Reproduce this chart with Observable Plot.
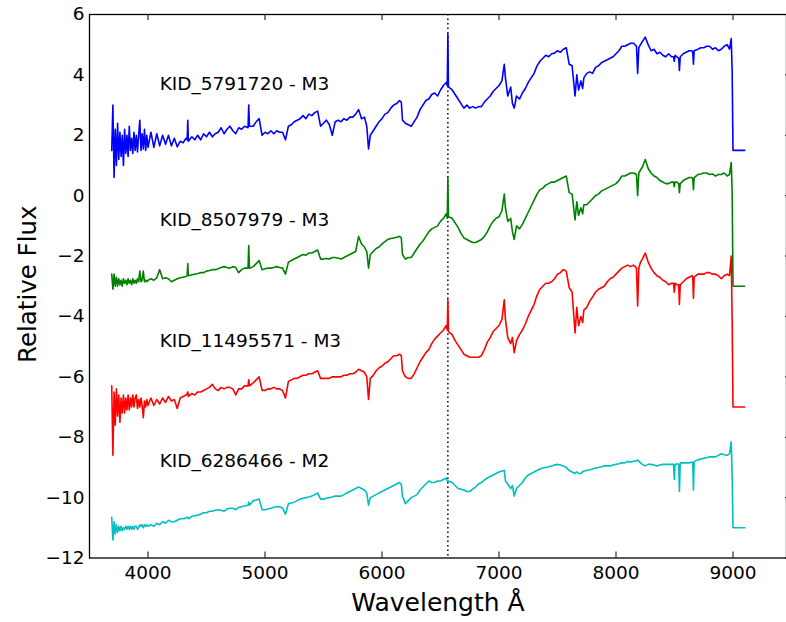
<!DOCTYPE html>
<html><head><meta charset="utf-8">
<script src="https://cdn.jsdelivr.net/npm/d3@7"></script>
<script src="https://cdn.jsdelivr.net/npm/@observablehq/plot@0.6"></script>
<style>html,body{margin:0;padding:0;background:#fff;overflow:hidden}#chart svg{display:block;overflow:hidden}</style>
</head><body><div id="chart"></div>
<script>
// Wavelength grid (Angstrom)
const wavelength = [
3690, 3700, 3710, 3720, 3730, 3740, 3750, 3760, 3770, 3780,
3790, 3800, 3810, 3820, 3830, 3840, 3850, 3860, 3870, 3880,
3890, 3900, 3910, 3920, 3930, 3940, 3950, 3960, 3970, 3980,
3990, 4000, 4025, 4050, 4075, 4100, 4125, 4150, 4175, 4200,
4225, 4250, 4275, 4300, 4325, 4335, 4340, 4345, 4375, 4400,
4425, 4450, 4475, 4500, 4525, 4550, 4575, 4600, 4625, 4650,
4675, 4700, 4725, 4750, 4775, 4800, 4825, 4855, 4861, 4867,
4900, 4925, 4950, 4975, 5000, 5025, 5050, 5075, 5100, 5125,
5150, 5175, 5200, 5225, 5250, 5275, 5300, 5325, 5350, 5375,
5400, 5425, 5450, 5475, 5500, 5525, 5550, 5575, 5600, 5625,
5650, 5675, 5700, 5725, 5750, 5775, 5800, 5825, 5850, 5870,
5885, 5900, 5925, 5950, 5975, 6000, 6025, 6050, 6075, 6100,
6125, 6150, 6165, 6175, 6200, 6225, 6250, 6275, 6300, 6325,
6350, 6375, 6400, 6425, 6450, 6475, 6500, 6525, 6550, 6558,
6563, 6568, 6600, 6625, 6650, 6675, 6700, 6725, 6750, 6775,
6800, 6825, 6850, 6875, 6900, 6925, 6950, 6975, 7000, 7025,
7045, 7055, 7075, 7100, 7115, 7130, 7150, 7175, 7200, 7225,
7250, 7275, 7300, 7325, 7350, 7375, 7400, 7425, 7450, 7475,
7500, 7525, 7550, 7575, 7600, 7625, 7650, 7665, 7680, 7700,
7715, 7725, 7750, 7775, 7800, 7825, 7850, 7875, 7900, 7925,
7950, 7975, 8000, 8025, 8050, 8075, 8100, 8125, 8150, 8175,
8185, 8195, 8210, 8225, 8250, 8275, 8300, 8325, 8350, 8375,
8400, 8425, 8450, 8475, 8492, 8498, 8505, 8520, 8536, 8542,
8549, 8575, 8600, 8625, 8650, 8656, 8662, 8668, 8700, 8725,
8750, 8775, 8800, 8825, 8850, 8875, 8900, 8925, 8950, 8970,
8985, 8993, 9000, 9100
];

// KID_5791720 - M3 (blue)
const fluxKID5791720 = [
1.5, 3.0, 0.6, 2.2, 1.0, 2.4, 1.2, 2.1, 1.3, 2.0,
1.0, 2.2, 1.4, 2.0, 1.3, 2.3, 1.5, 1.9, 1.4, 2.1,
1.5, 2.0, 1.45, 2.0, 2.5, 1.5, 2.05, 1.55, 2.2, 1.5,
2.0, 1.6, 2.1, 1.6, 2.05, 1.65, 2.0, 1.7, 2.0, 1.65,
1.9, 1.62, 1.8, 1.75, 1.9, 1.85, 2.5, 1.8, 1.95, 1.85,
2.0, 1.85, 2.05, 1.95, 2.1, 1.95, 2.05, 2.1, 2.25, 2.05,
2.2, 2.3, 2.15, 2.05, 2.25, 2.2, 2.3, 2.25, 3.0, 2.3,
2.3, 2.45, 2.55, 2.0, 2.1, 2.05, 2.15, 2.05, 2.15, 2.1,
2.1, 1.85, 2.3, 2.35, 2.45, 2.5, 2.55, 2.65, 2.55, 2.7,
2.65, 2.75, 2.8, 2.3, 2.4, 2.5, 2.35, 2.0, 2.45, 2.5,
2.45, 2.55, 2.5, 2.6, 2.6, 2.7, 2.85, 2.55, 2.6, 2.3,
1.55, 2.0, 2.15, 2.3, 2.45, 2.55, 2.7, 2.75, 2.9, 3.0,
3.05, 3.15, 3.1, 2.5, 2.4, 2.35, 2.3, 2.45, 2.6, 2.85,
3.0, 3.15, 3.2, 3.35, 3.4, 3.3, 3.5, 3.65, 3.75, 3.65,
5.35, 3.6, 3.5, 3.35, 3.2, 3.05, 2.9, 3.0, 2.9, 2.95,
2.9, 2.95, 2.95, 3.1, 3.2, 3.3, 3.45, 3.55, 3.65, 3.8,
4.35, 3.9, 3.3, 3.6, 3.05, 2.9, 3.3, 3.2, 3.4, 3.55,
3.75, 3.9, 4.05, 4.3, 4.45, 4.55, 4.65, 4.6, 4.7, 4.72,
4.8, 4.75, 4.85, 4.9, 4.35, 4.3, 3.3, 4.0, 3.5, 3.8,
3.55, 3.9, 4.05, 4.1, 4.05, 4.25, 4.3, 4.4, 4.45, 4.5,
4.55, 4.6, 4.7, 4.8, 4.95, 4.95, 5.0, 5.05, 5.05, 4.95,
4.05, 4.9, 5.0, 5.1, 5.25, 5.0, 4.8, 4.85, 4.7, 4.75,
4.65, 4.6, 4.7, 4.6, 4.6, 4.45, 4.65, 4.6, 4.55, 4.15,
4.6, 4.7, 4.75, 4.8, 4.8, 4.75, 4.35, 4.8, 4.85, 4.9,
4.9, 4.95, 4.95, 4.85, 4.9, 4.8, 4.85, 4.95, 5.0, 4.85,
5.2, 4.1, 1.5, 1.5
];

// KID_8507979 - M3 (green)
const fluxKID8507979 = [
-2.6, -3.1, -2.6, -3.0, -2.7, -3.0, -2.75, -2.95, -2.8, -3.0,
-2.75, -2.9, -2.8, -2.95, -2.75, -2.9, -2.8, -2.95, -2.75, -2.9,
-2.8, -2.9, -2.75, -2.85, -2.5, -2.85, -2.8, -2.5, -2.85, -2.8,
-2.85, -2.8, -2.75, -2.8, -2.72, -2.45, -2.75, -2.72, -2.75, -2.85,
-2.8, -2.75, -2.72, -2.7, -2.68, -2.65, -2.25, -2.65, -2.62, -2.6,
-2.58, -2.55, -2.55, -2.5, -2.48, -2.45, -2.45, -2.42, -2.38, -2.35,
-2.38, -2.4, -2.35, -2.38, -2.55, -2.45, -2.4, -2.4, -1.65, -2.4,
-2.35, -2.25, -2.15, -2.45, -2.42, -2.4, -2.4, -2.38, -2.35, -2.38,
-2.4, -2.6, -2.2, -2.15, -2.1, -2.05, -2.0, -1.95, -1.97, -1.9,
-1.9, -1.85, -1.8, -2.1, -2.1, -2.08, -2.1, -2.05, -2.05, -2.07,
-2.1, -2.05, -2.0, -1.95, -1.9, -1.85, -1.35, -1.6, -1.7, -1.85,
-2.4, -1.95, -1.85, -1.75, -1.7, -1.6, -1.52, -1.45, -1.42, -1.4,
-1.38, -1.35, -1.4, -1.95, -2.1, -2.05, -2.05, -1.9, -1.75, -1.6,
-1.5, -1.35, -1.2, -1.1, -1.05, -1.0, -0.85, -0.75, -0.6, -0.75,
0.6, -0.7, -0.75, -0.9, -1.05, -1.25, -1.4, -1.45, -1.5, -1.55,
-1.55, -1.5, -1.45, -1.35, -1.2, -1.0, -0.85, -0.75, -0.7, -0.5,
0.05, -0.4, -0.85, -0.75, -1.2, -1.45, -1.0, -1.1, -0.95, -0.75,
-0.55, -0.35, -0.15, 0.05, 0.2, 0.25, 0.35, 0.4, 0.45, 0.45,
0.5, 0.55, 0.6, 0.65, 0.1, 0.05, -0.8, -0.2, -0.65, -0.4,
-0.6, -0.3, -0.3, -0.2, -0.1, 0.0, 0.05, 0.15, 0.2, 0.25,
0.3, 0.35, 0.4, 0.5, 0.65, 0.65, 0.7, 0.75, 0.75, 0.7,
0.0, 0.75, 0.85, 0.95, 1.2, 0.9, 0.75, 0.65, 0.6, 0.5,
0.45, 0.4, 0.4, 0.45, 0.45, 0.3, 0.45, 0.45, 0.4, 0.1,
0.4, 0.5, 0.55, 0.6, 0.6, 0.55, 0.2, 0.6, 0.7, 0.72,
0.75, 0.75, 0.7, 0.72, 0.65, 0.7, 0.7, 0.75, 0.65, 0.7,
1.1, 0.1, -3.0, -3.0
];

// KID_11495571 - M3 (red)
const fluxKID11495571 = [
-6.3, -8.6, -6.5, -7.6, -6.4, -7.3, -6.6, -7.5, -6.7, -7.2,
-6.6, -7.2, -6.7, -7.1, -6.6, -7.1, -6.7, -7.0, -6.6, -7.0,
-6.7, -6.6, -7.05, -6.75, -7.0, -6.7, -6.95, -7.35, -6.8, -7.0,
-6.75, -6.95, -6.7, -6.95, -6.75, -6.9, -6.7, -6.85, -6.65, -6.8,
-6.75, -7.05, -6.7, -6.65, -6.6, -6.55, -6.5, -6.65, -6.55, -6.6,
-6.5, -6.5, -6.45, -6.4, -6.35, -6.25, -6.4, -6.45, -6.35, -6.4,
-6.35, -6.35, -6.4, -6.6, -6.4, -6.4, -6.3, -6.3, -6.1, -6.3,
-6.2, -6.1, -6.0, -6.45, -6.45, -6.4, -6.4, -6.35, -6.4, -6.4,
-6.45, -6.7, -6.15, -6.1, -6.05, -6.05, -6.0, -5.95, -5.95, -5.9,
-5.9, -5.85, -5.8, -6.05, -6.05, -6.05, -6.05, -6.0, -6.0, -6.0,
-6.0, -5.95, -5.95, -5.9, -5.9, -5.85, -5.75, -5.8, -5.85, -6.0,
-6.75, -6.05, -5.95, -5.8, -5.7, -5.65, -5.55, -5.5, -5.4, -5.3,
-5.3, -5.25, -5.3, -5.8, -6.0, -6.05, -6.05, -5.9, -5.7, -5.5,
-5.35, -5.2, -5.1, -4.9, -4.75, -4.65, -4.55, -4.45, -4.3, -4.45,
-3.45, -4.5, -4.6, -4.8, -4.95, -5.1, -5.25, -5.3, -5.35, -5.35,
-5.35, -5.35, -5.3, -5.1, -4.85, -4.7, -4.5, -4.4, -4.3, -4.1,
-3.45, -4.1, -4.7, -4.9, -4.7, -5.2, -4.8, -4.6, -4.45, -4.25,
-4.0, -3.8, -3.6, -3.3, -3.1, -3.0, -2.9, -2.9, -2.85, -2.75,
-2.6, -2.55, -2.45, -2.5, -3.05, -3.2, -4.55, -3.7, -4.3, -4.0,
-4.2, -3.8, -3.7, -3.5, -3.35, -3.2, -3.1, -3.05, -3.0, -2.85,
-2.75, -2.7, -2.6, -2.5, -2.4, -2.35, -2.3, -2.35, -2.3, -2.4,
-3.65, -2.4, -2.2, -2.1, -1.9, -2.2, -2.4, -2.55, -2.65, -2.7,
-2.8, -2.85, -2.95, -2.9, -2.9, -3.2, -2.9, -2.95, -2.95, -3.6,
-2.95, -2.85, -2.75, -2.7, -2.65, -2.7, -3.4, -2.7, -2.6, -2.6,
-2.6, -2.55, -2.55, -2.6, -2.6, -2.65, -2.75, -2.65, -2.6, -2.65,
-2.0, -4.2, -7.0, -7.0
];

// KID_6286466 - M2 (cyan)
const fluxKID6286466 = [
-10.65, -11.4, -10.8, -11.2, -10.9, -11.15, -10.95, -11.1, -10.95, -11.1,
-11.0, -11.05, -10.95, -11.05, -10.95, -11.05, -10.95, -11.05, -10.95, -11.05,
-10.95, -10.95, -11.05, -11.0, -10.9, -10.95, -10.9, -11.0, -10.9, -10.95,
-10.9, -10.95, -10.9, -10.95, -10.85, -10.9, -10.8, -10.85, -10.75, -10.8,
-10.8, -10.75, -10.7, -10.7, -10.68, -10.65, -10.65, -10.7, -10.62, -10.6,
-10.58, -10.55, -10.5, -10.5, -10.45, -10.45, -10.42, -10.4, -10.42, -10.45,
-10.38, -10.35, -10.35, -10.4, -10.32, -10.3, -10.28, -10.25, -10.15, -10.25,
-10.1, -10.08, -10.05, -10.4, -10.4, -10.38, -10.35, -10.32, -10.3, -10.3,
-10.35, -10.55, -10.2, -10.18, -10.15, -10.1, -10.05, -10.02, -10.0, -9.98,
-9.95, -9.9, -9.85, -10.05, -10.05, -10.02, -10.0, -9.98, -9.95, -9.95,
-9.95, -9.9, -9.85, -9.8, -9.75, -9.7, -9.65, -9.7, -9.75, -9.85,
-10.25, -10.0, -9.95, -9.9, -9.85, -9.8, -9.75, -9.7, -9.65, -9.6,
-9.55, -9.5, -9.55, -9.95, -10.2, -10.1, -10.0, -9.95, -9.9, -9.75,
-9.65, -9.55, -9.45, -9.5, -9.5, -9.45, -9.45, -9.4, -9.35, -9.45,
-9.45, -9.45, -9.5, -9.6, -9.7, -9.72, -9.75, -9.8, -9.8, -9.72,
-9.65, -9.55, -9.5, -9.42, -9.35, -9.3, -9.25, -9.2, -9.15, -9.12,
-9.1, -9.45, -9.55, -9.7, -9.6, -9.95, -9.7, -9.6, -9.5, -9.35,
-9.25, -9.2, -9.15, -9.1, -9.05, -9.02, -9.0, -8.98, -8.95, -8.92,
-8.9, -8.92, -8.95, -9.0, -9.1, -9.15, -9.2, -9.15, -9.2, -9.2,
-9.15, -9.12, -9.1, -9.08, -9.05, -9.02, -9.0, -8.98, -8.95, -8.95,
-8.95, -8.92, -8.9, -8.88, -8.85, -8.85, -8.8, -8.82, -8.8, -8.78,
-8.75, -8.8, -8.85, -8.9, -8.95, -8.9, -8.9, -8.92, -8.95, -8.92,
-8.9, -8.9, -8.9, -8.9, -8.9, -9.4, -8.9, -8.88, -8.9, -9.8,
-8.85, -8.85, -8.85, -8.85, -8.82, -8.85, -9.75, -8.8, -8.75, -8.72,
-8.7, -8.68, -8.65, -8.65, -8.65, -8.6, -8.55, -8.58, -8.6, -8.55,
-8.15, -9.3, -11.0, -11.0
];

const seriesLabels = ["KID_5791720 - M3", "KID_8507979 - M3", "KID_11495571 - M3", "KID_6286466 - M2"];
const labelWavelength = [4100, 4100, 4100, 4100];
const labelFlux = [3.5, -1, -5, -9];
const xTicks = [4000, 5000, 6000, 7000, 8000, 9000];
const yTicks = [-12, -10, -8, -6, -4, -2, 0, 2, 4, 6];
const hAlpha = [6563];

const font = "'DejaVu Sans', sans-serif";
const tickLen = 6;
const frameW = 791 - 89, frameH = 557.5 - 14;
const lw = 1.6;

const chart = Plot.plot({
  width: 786,
  height: 622,
  marginLeft: 89,
  marginRight: 0,
  marginTop: 14,
  marginBottom: 64.5,
  x: {domain: [3500, 9500], range: [89, 791]},
  y: {domain: [-12, 6], range: [557.5, 14]},
  style: {fontFamily: font, background: "white", color: "black"},
  marks: [
    Plot.ruleX(hAlpha, {x: d => d, stroke: "black", strokeWidth: 1.5, strokeDasharray: "1.5,3"}),
    Plot.line(fluxKID5791720, {x: wavelength, y: d => d, stroke: "#0000ff", strokeWidth: lw}),
    Plot.line(fluxKID8507979, {x: wavelength, y: d => d, stroke: "#008000", strokeWidth: lw}),
    Plot.line(fluxKID11495571, {x: wavelength, y: d => d, stroke: "#ff0000", strokeWidth: lw}),
    Plot.line(fluxKID6286466, {x: wavelength, y: d => d, stroke: "#00bfbf", strokeWidth: lw}),
    Plot.text(seriesLabels, {x: labelWavelength, y: labelFlux, text: d => d, textAnchor: "start", lineAnchor: "middle", fontSize: 18.5, dy: -5.9, fill: "black"}),
    // inward ticks on all four sides
    Plot.ruleX(xTicks, {x: d => d, insetTop: frameH - tickLen, stroke: "black", strokeWidth: 1}),
    Plot.ruleX(xTicks, {x: d => d, insetBottom: frameH - tickLen, stroke: "black", strokeWidth: 1}),
    Plot.ruleY(yTicks, {y: d => d, insetRight: frameW - tickLen, stroke: "black", strokeWidth: 1}),
    Plot.ruleY(yTicks, {y: d => d, insetLeft: frameW - tickLen, stroke: "black", strokeWidth: 1}),
    Plot.axisX({ticks: xTicks, tickSize: 0, tickPadding: 8, fontSize: 18.5, label: null, tickFormat: d3.format("d")}),
    Plot.axisY({ticks: yTicks, tickSize: 0, tickPadding: 5, fontSize: 18.5, label: null, tickFormat: d3.format("d")}),
    Plot.frame({stroke: "black", strokeWidth: 1.3}),
    Plot.text(["Wavelength Å"], {text: d => d, frameAnchor: "bottom", textAnchor: "middle", lineAnchor: "middle", dy: 45.2, fontSize: 25, fill: "black"}),
    Plot.text(["Relative Flux"], {text: d => d, frameAnchor: "left", textAnchor: "middle", lineAnchor: "middle", rotate: -90, dx: -61, dy: -2, fontSize: 24.5, fill: "black"})
  ]
});
document.getElementById("chart").appendChild(chart);
</script>
</body></html>
